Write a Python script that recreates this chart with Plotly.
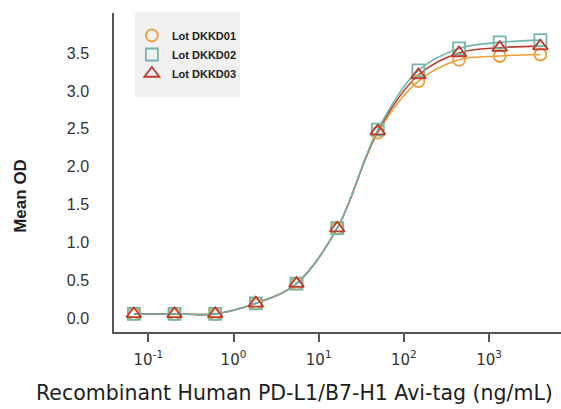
import plotly.graph_objects as go

# ---- data ----
conc = [0.0677, 0.203, 0.610, 1.83, 5.49, 16.5, 49.4, 148, 444, 1333, 4000]
lot1 = [0.06, 0.06, 0.06, 0.20, 0.46, 1.19, 2.45, 3.13, 3.41, 3.46, 3.48]
lot2 = [0.06, 0.06, 0.06, 0.20, 0.46, 1.19, 2.49, 3.27, 3.56, 3.64, 3.67]
lot3 = [0.06, 0.06, 0.06, 0.20, 0.46, 1.19, 2.47, 3.21, 3.50, 3.57, 3.59]
names = ["Lot DKKD01", "Lot DKKD02", "Lot DKKD03"]
x_tickvals = [0.1, 1, 10, 100, 1000]
x_ticktext = ["10<sup>-1</sup>", "10<sup>0</sup>", "10<sup>1</sup>", "10<sup>2</sup>", "10<sup>3</sup>"]
y_tickvals = [0.0, 0.5, 1.0, 1.5, 2.0, 2.5, 3.0, 3.5]

colors = ["#EE9F3A", "#72B5AE", "#BD3B2A"]
symbols = ["circle-open", "square-open", "triangle-up-open"]
sizes = [12, 12, 13]
series = [lot1, lot2, lot3]

fig = go.Figure()
# smooth connecting lines (teal drawn last among lines)
for i in [0, 2, 1]:
    fig.add_trace(go.Scatter(x=conc, y=series[i], mode="lines",
                             line=dict(color=colors[i], width=1.6, shape="spline", smoothing=1.0),
                             showlegend=False, hoverinfo="skip"))
for i in range(3):
    fig.add_trace(go.Scatter(x=conc, y=series[i], mode="markers", name=names[i],
                             marker=dict(symbol=symbols[i], size=sizes[i], color=colors[i],
                                         line=dict(width=1.8, color=colors[i]))))

fig.update_layout(
    width=561, height=409,
    margin=dict(l=114, r=0, t=13, b=77),
    paper_bgcolor="white", plot_bgcolor="white",
    showlegend=True,
    legend=dict(x=0.04, y=0.975, xanchor="left", yanchor="top",
                bgcolor="rgba(0,0,0,0)", borderwidth=0,
                font=dict(family="Liberation Sans", size=11, color="#222", weight="bold"),
                tracegroupgap=0, itemsizing="trace"),
    shapes=[dict(type="rect", xref="paper", yref="paper", x0=0.047, x1=0.282, y0=0.737, y1=1.003,
                 fillcolor="#F1F1F1", line=dict(width=0), layer="below")],
    xaxis=dict(type="log", range=[-1.4026, 3.844], showgrid=False, zeroline=False,
               showline=True, linecolor="#555", linewidth=1.5,
               ticks="outside", ticklen=8, tickwidth=1.5, tickcolor="#555",
               tickvals=x_tickvals, ticktext=x_ticktext,
               tickfont=dict(family="DejaVu Sans", size=15, color="#333"),
               ticklabelstandoff=5),
    yaxis=dict(range=[-0.178, 4.027], showgrid=False, zeroline=False,
               showline=True, linecolor="#555", linewidth=1.5,
               ticks="", tickvals=y_tickvals, tickformat=".1f",
               tickfont=dict(family="Liberation Sans", size=16, color="#333"),
               ticklabelstandoff=20),
    annotations=[
        dict(text="Recombinant Human PD-L1/B7-H1 Avi-tag (ng/mL)", xref="paper", yref="paper",
             x=0.403, y=-0.191, xanchor="center", yanchor="middle", showarrow=False,
             font=dict(family="DejaVu Sans", size=20.5, color="#1e1e1e")),
        dict(text="Mean OD", xref="paper", yref="paper", x=-0.211, y=0.426,
             xanchor="center", yanchor="middle", showarrow=False, textangle=-90,
             font=dict(family="Liberation Sans", size=17, color="#222", weight="bold")),
    ],
)

fig.write_html("out.html")
